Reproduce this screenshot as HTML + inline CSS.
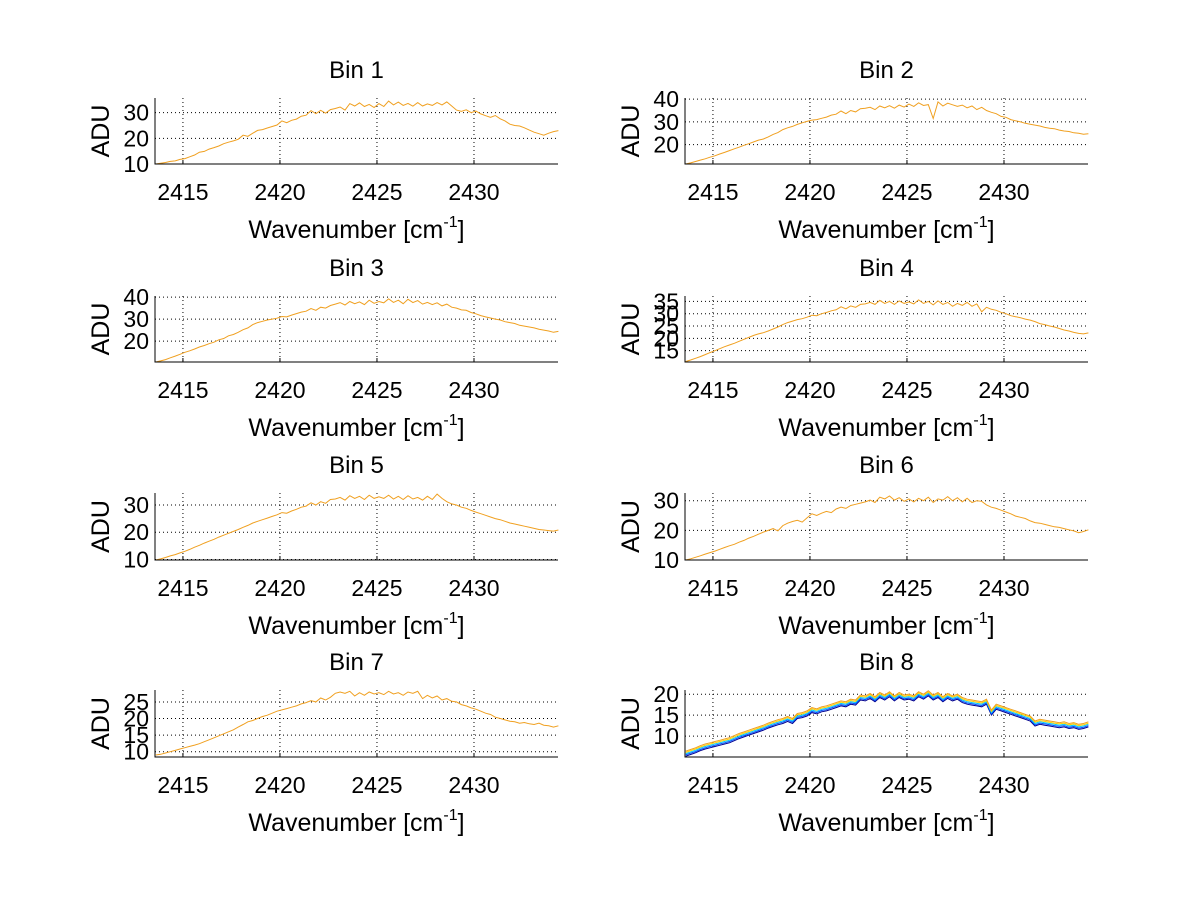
<!DOCTYPE html>
<html><head><meta charset="utf-8"><style>
html,body{margin:0;padding:0;background:#fff;}
svg{display:block;font-family:"Liberation Sans",sans-serif;}
</style></head><body>
<svg id="fig" width="1200" height="901" viewBox="0 0 1200 901" xmlns="http://www.w3.org/2000/svg">
<rect width="1200" height="901" fill="#fff"/>
</svg>
<script>
const xStart = 2413.6;
const xStep = 0.25;
const xLimits = [2413.56, 2434.33];
const xTicks = [2415, 2420, 2425, 2430];
const binTitles = ["Bin 1","Bin 2","Bin 3","Bin 4","Bin 5","Bin 6","Bin 7","Bin 8"];
const yLimits = [[10,35.7],[11.5,40.5],[10.5,40.5],[10.4,37.2],[9.8,34.4],[10,32.6],[8.4,28.6],[5,21]];
const yTicks = [[10,20,30],[20,30,40],[20,30,40],[15,20,25,30,35],[10,20,30],[10,20,30],[10,15,20,25],[10,15,20]];
const bin1 = [10,10.3,10.6,11,11.2,11.8,12.1,12.8,13.5,14.6,14.9,15.8,16.4,17.0,17.9,18.5,19.0,
19.6,21.2,20.8,22.0,23.1,23.4,24.0,24.6,25.2,26.8,
26.1,27.0,27.5,28.6,29.0,30.8,29.6,30.9,29.8,31.2,
31.6,32.2,31.0,33.5,32.6,33.8,32.4,33.2,32.0,33.5,
32.4,34.5,33.0,34.1,32.8,33.6,32.5,33.9,32.6,33.4,
32.8,33.9,33.0,34.2,32.6,31.0,30.5,31.1,30.0,30.6,
29.5,28.8,28.2,28.9,27.6,26.8,25.5,25.0,24.8,24.1,
23.2,22.4,21.8,21.2,22.0,22.6,23.0];
const bin2 = [11.5,12.0,12.6,13.2,13.8,14.5,15.1,15.9,16.6,17.4,18.2,18.9,19.7,20.4,21.2,22.0,22.5,
23.4,24.5,25.3,26.6,27.4,28.0,28.9,29.6,30.2,30.8,
31.0,31.6,32.1,33.0,33.4,34.8,33.6,35.0,34.4,35.8,
36.0,36.4,35.4,37.0,36.2,37.1,36.0,37.4,36.5,37.8,
36.8,38.4,37.2,37.6,31.5,38.8,37.0,38.2,37.5,36.8,
37.4,36.2,37.0,35.4,36.4,35.0,34.2,33.6,32.4,32.0,
31.0,30.5,30.0,29.4,29.0,28.6,28.2,27.6,27.2,27.0,
26.4,26.0,25.8,25.2,25.0,24.6,24.8];
const bin3 = [10.5,11.0,11.6,12.4,13.2,14.0,14.9,15.6,16.4,17.3,18.0,18.8,19.5,20.6,21.2,22.4,23.0,
24.0,25.2,26.0,27.5,28.4,29.0,29.6,30.0,30.4,31.2,
31.0,31.8,32.5,33.2,33.6,34.8,34.0,35.4,35.0,36.2,
36.8,37.5,36.4,38.0,37.0,37.8,36.6,38.6,37.2,38.0,
37.4,39.2,37.6,38.6,37.0,39.0,37.5,38.4,36.8,37.6,
36.6,37.4,36.0,36.8,35.4,35.0,34.2,34.0,33.0,32.4,
31.6,31.0,30.5,30.0,29.6,28.8,28.4,28.0,27.2,26.8,
26.4,26.0,25.4,25.0,24.6,24.0,24.4];
const bin4 = [10.6,11.2,11.9,12.6,13.4,14.2,15.0,15.8,16.6,17.3,18.0,18.8,19.6,20.4,21.2,21.8,22.3,
23.0,23.8,24.6,25.6,26.4,27.0,27.6,28.0,28.6,29.4,
29.2,30.0,30.5,31.2,31.6,32.8,32.0,33.2,32.6,33.8,
34.0,34.6,33.8,35.4,34.2,35.0,33.8,35.2,34.2,34.8,
34.0,35.6,34.2,35.0,33.6,35.2,33.8,34.6,33.0,34.2,
33.4,34.6,33.0,34.0,30.8,32.6,31.8,31.4,30.6,30.0,
29.2,28.8,28.4,27.8,27.4,26.8,26.0,25.6,25.0,24.6,
24.0,23.4,23.0,22.4,22.0,21.8,22.2];
const bin5 = [9.8,10.2,10.7,11.3,11.8,12.4,13.0,13.7,14.5,15.2,16.0,16.7,17.4,18.2,18.9,19.6,20.3,
21.0,21.8,22.5,23.4,24.0,24.6,25.2,25.8,26.4,27.2,
27.0,27.8,28.4,29.2,29.6,30.8,30.0,31.2,30.6,32.0,
32.2,32.8,31.8,33.4,32.4,33.2,32.0,33.6,32.4,33.0,
32.4,33.6,32.2,33.2,32.0,33.4,32.2,32.8,31.8,33.2,
32.0,34.0,32.4,31.2,30.4,30.0,29.2,28.8,28.0,27.4,
26.8,26.2,25.6,25.0,24.6,24.0,23.4,23.0,22.6,22.2,
21.8,21.4,21.0,20.8,20.6,20.4,20.8];
const bin6 = [10.0,10.4,10.9,11.4,12.0,12.5,13.0,13.6,14.2,14.8,15.3,16.0,16.6,17.4,18.0,18.7,19.4,
20.0,20.6,19.8,21.6,22.4,23.0,23.4,22.8,24.2,25.6,
25.0,25.8,26.4,26.0,27.2,27.8,27.4,28.4,28.8,29.2,
29.6,30.2,29.4,31.2,30.6,31.6,30.2,31.0,29.8,30.6,
29.6,30.8,30.0,31.2,29.4,30.6,30.2,31.4,30.0,31.0,
29.6,30.8,29.4,30.0,29.8,28.6,27.8,27.4,26.8,26.2,
25.6,24.8,24.4,24.0,23.2,22.6,22.4,22.0,21.6,21.2,
21.0,20.6,20.2,19.8,19.2,19.6,20.2];
const bin7 = [9.0,9.2,9.6,10.0,10.4,10.8,11.2,11.6,12.0,12.4,13.0,13.6,14.2,14.8,15.4,16.0,16.6,
17.4,18.2,19.0,19.4,20.0,20.6,21.0,21.6,22.2,22.6,
23.0,23.4,23.8,24.4,24.8,25.4,25.0,26.2,25.6,26.4,
27.6,28.0,27.6,28.2,26.8,27.8,27.0,28.0,27.4,27.8,
27.2,28.2,27.4,27.8,27.0,28.0,27.6,28.2,26.0,27.0,
26.2,26.8,25.6,26.0,25.2,25.0,24.2,23.8,23.2,22.8,
22.2,21.6,21.2,20.4,20.0,19.6,19.2,19.0,18.6,18.8,
18.4,18.2,18.6,18.0,17.8,17.4,17.8];
const bin8 = [5.2,5.6,6.0,6.5,6.9,7.2,7.5,7.8,8.1,8.4,8.9,9.4,9.8,10.2,10.6,11.0,11.4,
11.9,12.3,12.7,13.0,13.5,13.0,14.2,14.4,14.8,15.6,
15.3,15.8,16.0,16.4,16.8,17.2,17.0,17.6,17.4,18.6,
18.4,19.0,18.2,19.2,18.6,19.4,18.4,19.2,18.6,18.8,
18.4,19.4,18.8,19.6,18.6,19.2,18.2,19.0,18.4,18.8,
18.0,17.6,17.4,17.2,17.0,17.6,15.0,16.4,16.0,15.6,
15.2,14.8,14.4,14.0,13.6,12.4,12.8,12.6,12.4,12.2,
12.0,12.2,11.8,12.0,11.6,11.8,12.2];
const bin8Offsets = [0, 0.3, 0.6, 0.9, 1.2];
const bins = [bin1,bin2,bin3,bin4,bin5,bin6,bin7,bin8];

const NS = "http://www.w3.org/2000/svg";
const svg = document.getElementById('fig');
const colLeft = [155, 685], axW = 403;
const rowTop = [98, 296, 493, 690], rowBot = [164, 362, 560, 757];
const seriesColors = ['#00008f', '#0050ff', '#00c8ff', '#ffd000', '#f0a020'];

function mk(tag, attrs, parent) {
  const e = document.createElementNS(NS, tag);
  for (const k in attrs) e.setAttribute(k, attrs[k]);
  parent.appendChild(e);
  return e;
}

bins.forEach((data, b) => {
  const L = colLeft[b % 2], T = rowTop[Math.floor(b / 2)], B = rowBot[Math.floor(b / 2)];
  const [ymin, ymax] = yLimits[b];
  const sx = v => L + (v - xLimits[0]) / (xLimits[1] - xLimits[0]) * axW;
  const sy = v => B - (v - ymin) / (ymax - ymin) * (B - T);
  const g = mk('g', {}, svg);
  
  
  xTicks.forEach(t => {
    const l = mk('line', {x1: sx(t), x2: sx(t), y1: T, y2: B, stroke: '#000', 'stroke-width': 1, 'stroke-dasharray': '1,3'}, g);
    
    
    mk('line', {x1: sx(t), x2: sx(t), y1: B, y2: B - 4, stroke: '#000'}, g);
    const tx = mk('text', {x: sx(t), y: B + 36, 'font-size': 23, 'text-anchor': 'middle'}, g);
    tx.textContent = t;
    
    
  });
  yTicks[b].forEach(t => {
    const l = mk('line', {x1: L, x2: L + axW, y1: sy(t), y2: sy(t), stroke: '#000', 'stroke-width': 1, 'stroke-dasharray': '1,3'}, g);
    
    
    const tx = mk('text', {x: L - 6, y: sy(t) + 8, 'font-size': 23, 'text-anchor': 'end'}, g);
    tx.textContent = t;
    
    
  });
  const drawLine = (off, color) => {
    const pts = data.map((v, i) => sx(xStart + i * xStep).toFixed(1) + ',' + sy(v + off).toFixed(1)).join(' ');
    const p = mk('polyline', {points: pts, fill: 'none', stroke: color, 'stroke-width': 1}, g);
    
    
  };
  if (b === 7) {
    bin8Offsets.forEach((o, k) => drawLine(o, seriesColors[k]));
  } else {
    drawLine(0, '#f0a020');
  }
  const ax = mk('path', {d: `M${L},${T} L${L},${B} L${L + axW},${B}`, fill: 'none', stroke: '#000', 'stroke-width': 1}, g);
  
  
  const ti = mk('text', {x: L + axW / 2, y: T - 20, 'font-size': 24, 'text-anchor': 'middle'}, g);
  ti.textContent = binTitles[b];
  
  
  const xl = mk('text', {x: L + axW / 2, y: B + 74, 'font-size': 25, 'text-anchor': 'middle'}, g);
  xl.innerHTML = 'Wavenumber [cm<tspan font-size="16" dy="-11">-1</tspan><tspan dy="11">]</tspan>';
  
  
  const yc = (T + B) / 2;
  const yl = mk('text', {x: L - 46, y: yc, 'font-size': 25, 'text-anchor': 'middle', transform: `rotate(-90 ${L - 46} ${yc})`}, g);
  yl.textContent = 'ADU';
  
  
});
</script>
</body></html>
